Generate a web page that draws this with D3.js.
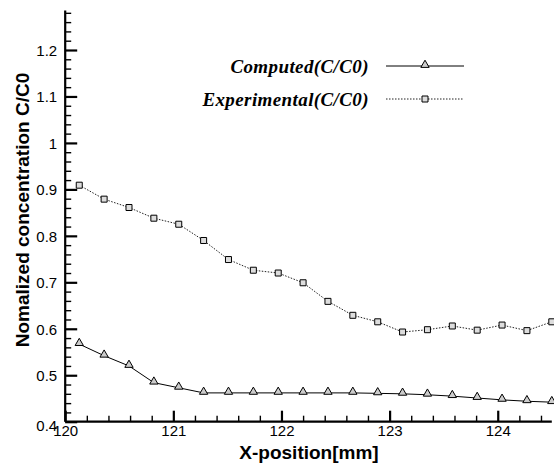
<!DOCTYPE html>
<html>
<head>
<meta charset="utf-8">
<script src="https://cdn.jsdelivr.net/npm/d3@7"></script>
<style>
  html, body { margin: 0; padding: 0; background: #fff; }
  svg { display: block; }
</style>
</head>
<body>
<svg id="chart" width="554" height="464"></svg>
<script>
const xPositions = [120.13, 120.36, 120.59, 120.82, 121.05, 121.28, 121.51, 121.74, 121.97, 122.20,
                    122.43, 122.66, 122.89, 123.12, 123.35, 123.58, 123.81, 124.04, 124.27, 124.50];
const computed = [0.567, 0.542, 0.520, 0.484, 0.473, 0.462, 0.462, 0.462, 0.462, 0.462,
                  0.462, 0.462, 0.461, 0.460, 0.458, 0.455, 0.451, 0.447, 0.444, 0.442];
const experimental = [0.909, 0.879, 0.861, 0.838, 0.825, 0.790, 0.749, 0.726, 0.720, 0.699,
                      0.659, 0.629, 0.615, 0.593, 0.598, 0.606, 0.597, 0.608, 0.596, 0.615];
const xTicks = [120, 121, 122, 123, 124];
const xTickLabels = ["120", "121", "122", "123", "124"];
const yTicks = [0.4, 0.5, 0.6, 0.7, 0.8, 0.9, 1.0, 1.1, 1.2];
const yTickLabels = ["0.4", "0.5", "0.6", "0.7", "0.8", "0.9", "1", "1.1", "1.2"];
const seriesNames = ["Computed(C/C0)", "Experimental(C/C0)"];
const xTitle = "X-position[mm]";
const yTitle = "Nomalized concentration C/C0";

const svg = d3.select("#chart");
const x = d3.scaleLinear().domain([120, 124.5]).range([65.2, 551.8]);
const y = d3.scaleLinear().domain([0.4, 1.285]).range([421.7, 10.5]);

const xMinor = d3.range(0, 23).map(i => 120 + i * 0.2).filter(v => v <= 124.5 && Math.abs(v - Math.round(v)) > 1e-6);
const yMinor = d3.range(0, 45).map(i => 0.4 + i * 0.02).filter(v => v <= 1.285 && Math.abs(v * 10 - Math.round(v * 10)) > 1e-6);

// minor ticks
const gxm = svg.append("g").attr("transform", `translate(0,${y(0.4)})`)
  .call(d3.axisBottom(x).tickValues(xMinor).tickSize(-6).tickFormat(""));
const gym = svg.append("g").attr("transform", `translate(${x(120)},0)`)
  .call(d3.axisLeft(y).tickValues(yMinor).tickSize(-6).tickFormat(""));
[gxm, gym].forEach(g => { g.select(".domain").remove(); g.selectAll("line").attr("stroke", "#000").attr("stroke-width", 1.4); });

// major axes
const gx = svg.append("g").attr("transform", `translate(0,${y(0.4)})`)
  .call(d3.axisBottom(x).tickValues(xTicks).tickSize(-11).tickPadding(4)
    .tickFormat((d, i) => xTickLabels[i]));
const gy = svg.append("g").attr("transform", `translate(${x(120)},0)`)
  .call(d3.axisLeft(y).tickValues(yTicks).tickSize(-12).tickPadding(8)
    .tickFormat((d, i) => yTickLabels[i]));
[gx, gy].forEach(g => {
  g.select(".domain").attr("stroke", "#000").attr("stroke-width", 2.2);
  g.selectAll(".tick line").attr("stroke", "#000").attr("stroke-width", 2.2);
  g.selectAll("text").attr("font-family", "Liberation Sans, Arial, sans-serif")
    .attr("font-size", 15).attr("fill", "#000");
});
gy.selectAll(".tick text").attr("dy", (d) => d === 0.4 ? "0.6em" : "0.35em");
gx.select(".domain").attr("d", `M${x(120)},0H${x(124.5)}`);
gy.select(".domain").attr("d", `M0,${y(0.4)}V${y(1.285)}`);

// titles
svg.append("text").attr("x", 309).attr("y", 459)
  .attr("text-anchor", "middle")
  .attr("font-family", "Liberation Sans, Arial, sans-serif").attr("font-weight", "bold")
  .attr("font-size", 19).text(xTitle);
svg.append("text")
  .attr("transform", `translate(29,210) rotate(-90)`)
  .attr("text-anchor", "middle")
  .attr("font-family", "Liberation Sans, Arial, sans-serif").attr("font-weight", "bold")
  .attr("font-size", 19).text(yTitle);

// lines
const line = (vals) => d3.line().x((d, i) => x(xPositions[i])).y(d => y(d))(vals);
svg.append("path").attr("d", line(computed)).attr("fill", "none")
  .attr("stroke", "#000").attr("stroke-width", 1);
svg.append("path").attr("d", line(experimental)).attr("fill", "none")
  .attr("stroke", "#222").attr("stroke-width", 1).attr("stroke-dasharray", "1.5,1.5");

const tri = d3.symbol().type(d3.symbolTriangle).size(30);
const sq = d3.symbol().type(d3.symbolSquare).size(36);

svg.append("g").selectAll("path").data(computed).join("path")
  .attr("transform", (d, i) => `translate(${x(xPositions[i])},${y(d) - 1})`)
  .attr("d", tri).attr("fill", "#ccc").attr("stroke", "#000").attr("stroke-width", 1);
svg.append("g").selectAll("path").data(experimental).join("path")
  .attr("transform", (d, i) => `translate(${x(xPositions[i])},${y(d)})`)
  .attr("d", sq).attr("fill", "#ddd").attr("stroke", "#000").attr("stroke-width", 1);

// legend
const legendY = [66, 99];
seriesNames.forEach((name, i) => {
  svg.append("text").attr("x", 369).attr("y", legendY[i]).attr("dy", "0.35em")
    .attr("text-anchor", "end")
    .attr("font-family", "Liberation Serif, Times New Roman, serif")
    .attr("font-style", "italic").attr("font-weight", "bold")
    .attr("font-size", 19).attr("letter-spacing", 0.4).text(name);
  const l = svg.append("line").attr("x1", 386).attr("x2", 464)
    .attr("y1", legendY[i]).attr("y2", legendY[i])
    .attr("stroke", i === 0 ? "#000" : "#222").attr("stroke-width", 1);
  if (i === 1) l.attr("stroke-dasharray", "1.5,1.5");
  svg.append("path").attr("transform", `translate(425,${legendY[i] - (i === 0 ? 1 : 0)})`)
    .attr("d", i === 0 ? tri : sq).attr("fill", i === 0 ? "#ccc" : "#ddd")
    .attr("stroke", "#000").attr("stroke-width", 1);
});
</script>
</body>
</html>
